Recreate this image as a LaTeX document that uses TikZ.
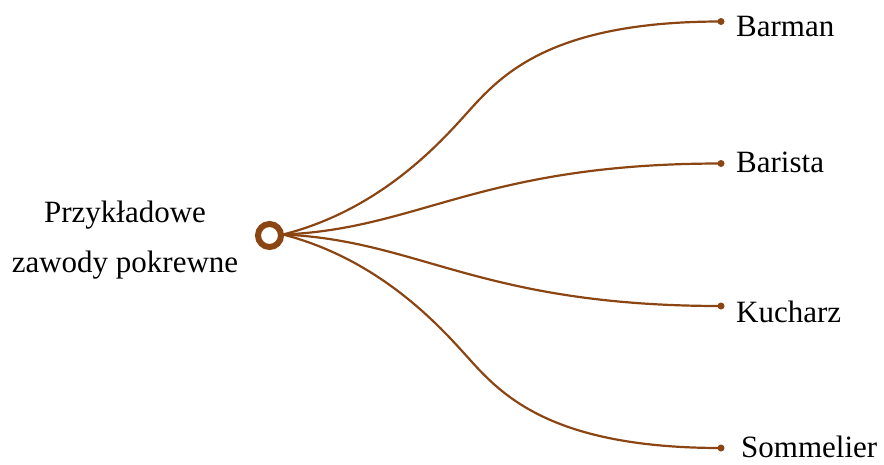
\documentclass[tikz,border=0pt]{standalone}
\usepackage{fontspec}
\setmainfont{Liberation Serif}
\definecolor{brn}{HTML}{8B4513}
\begin{document}
\begin{tikzpicture}[x=1pt,y=-1pt,
  branch/.style={draw=brn,line width=2.2pt},
  tipdot/.style={circle,fill=brn,inner sep=0pt,minimum size=7pt},
  lbl/.style={anchor=base west,inner sep=0pt,font=\fontsize{31}{37}\selectfont},
  clbl/.style={anchor=base,inner sep=0pt,font=\fontsize{31}{37}\selectfont}]
\useasboundingbox (0,0) rectangle (884,464);
\coordinate (s) at (283,234.5);
\coordinate (m1) at (467,113);
\coordinate (m4) at (467,356.5);
\node[tipdot] (d1) at (721,21.5) {};
\node[tipdot] (d2) at (721,163.5) {};
\node[tipdot] (d3) at (721,306) {};
\node[tipdot] (d4) at (721,448) {};
\draw[branch] (s) .. controls (380,210) and (440,143) .. (m1)
                  .. controls (500.4,75.8) and (549,21.5) .. (d1.center);
\draw[branch] (s) .. controls (420,229) and (480,163.5) .. (d2.center);
\draw[branch] (s) .. controls (420,240.5) and (480,306) .. (d3.center);
\draw[branch] (s) .. controls (380,259.5) and (440,326.5) .. (m4)
                  .. controls (500.4,393.7) and (549,448) .. (d4.center);
\node[circle,draw=brn,fill=white,line width=6pt,minimum size=23pt,inner sep=0pt] (hub) at (269.5,235.5) {};
\node[lbl] (t1) at (736,36) {Barman};
\node[lbl] (t2) at (736,172) {Barista};
\node[lbl] (t3) at (736,322) {Kucharz};
\node[lbl] (t4) at (741,457) {Sommelier};
\node[clbl] (c1) at (125,222) {Przykładowe};
\node[clbl] (c2) at (125,272) {zawody pokrewne};
\end{tikzpicture}
\end{document}
